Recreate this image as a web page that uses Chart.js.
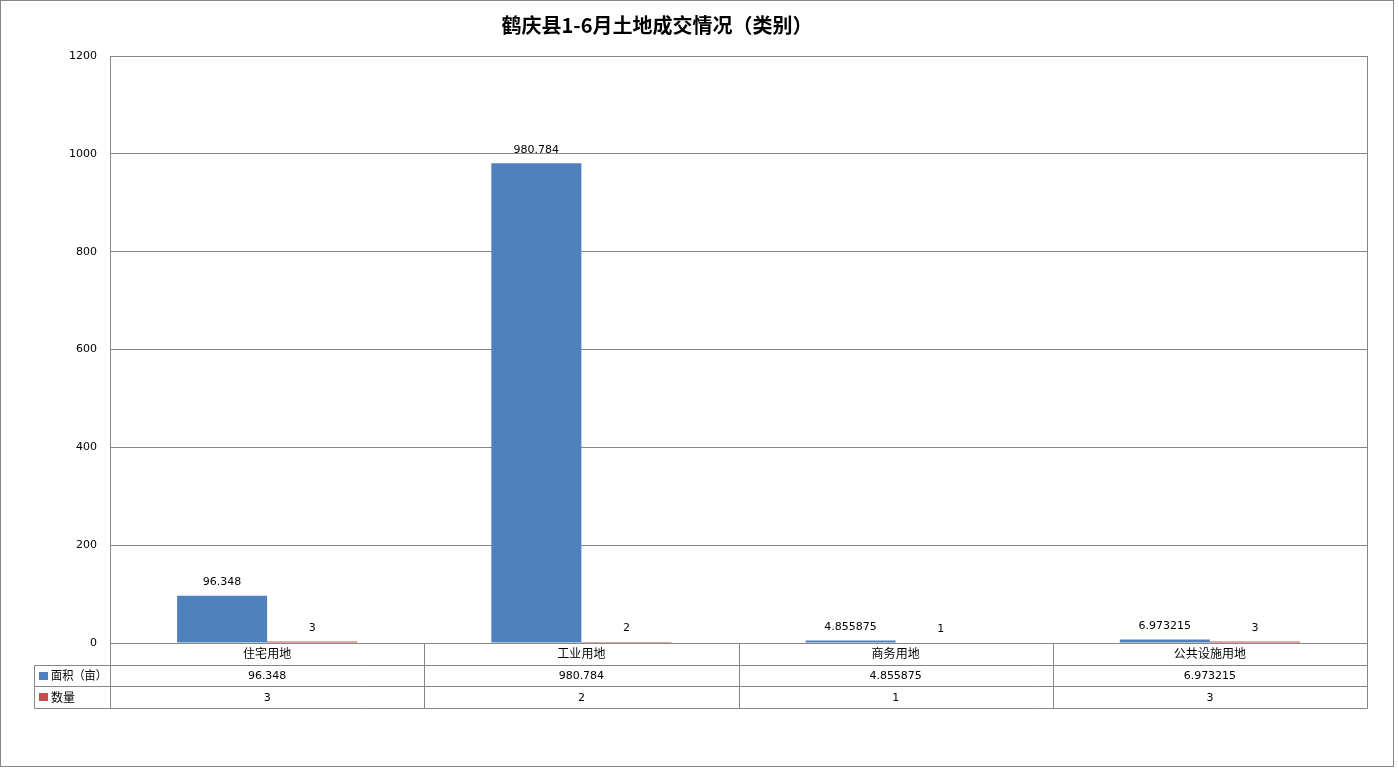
<!DOCTYPE html>
<html lang="zh-CN">
<head>
    <meta charset="UTF-8">
    <meta name="viewport" content="width=device-width, initial-scale=1.0">
    <script src="https://cdn.jsdelivr.net/npm/chart.js"></script>
    <title>鹤庆县1-6月土地成交情况（类别）</title>
    <style>
        html, body { margin: 0; padding: 0; background: #fff; }
        .container { width: 1398px; height: 768px; position: relative; }
    </style>
</head>
<body>
    <div class="container">
        <canvas id="mychart"></canvas>
    </div>

    <script>
        // chart data
        const chartTitle = '鹤庆县1-6月土地成交情况（类别）';
        const categories = ['住宅用地', '工业用地', '商务用地', '公共设施用地'];
        const seriesNames = ['面积（亩）', '数量'];
        const areaValues = [96.348, 980.784, 4.855875, 6.973215];
        const countValues = [3, 2, 1, 3];
        const yTicks = [0, 200, 400, 600, 800, 1000, 1200];

        const seriesColors = ['#4F81BD', '#C0504D'];
        const lineColor = '#868686';
        const numFont = '11px "DejaVu Sans", Verdana, sans-serif';
        const cjkFont = '12px "Noto Sans CJK SC", sans-serif';

        function crisp(v) { return Math.round(v) + 0.5; }

        // frame, value labels and the data table under the plot
        const tablePlugin = {
            id: 'tableAndFrame',
            beforeDraw(chart) {
                const ctx = chart.ctx;
                ctx.save();
                ctx.fillStyle = '#fff';
                ctx.fillRect(0, 0, chart.width, chart.height);
                ctx.strokeStyle = lineColor;
                ctx.lineWidth = 1;
                ctx.strokeRect(0.5, 0.5, 1393, 766);
                // title
                ctx.fillStyle = '#000';
                ctx.font = 'bold 20px "Noto Sans CJK SC", sans-serif';
                ctx.textAlign = 'center';
                ctx.textBaseline = 'middle';
                ctx.fillText(chartTitle, 657, 25);
                ctx.restore();
            },
            afterDatasetsDraw(chart) {
                const ctx = chart.ctx;
                ctx.save();
                ctx.font = numFont;
                ctx.fillStyle = '#000';
                ctx.textAlign = 'center';
                ctx.textBaseline = 'bottom';
                chart.data.datasets.forEach((ds, di) => {
                    chart.getDatasetMeta(di).data.forEach((el, i) => {
                        ctx.fillText(String(ds.data[i]), el.x, el.y - 8);
                    });
                });
                ctx.restore();
            },
            afterDraw(chart) {
                const ctx = chart.ctx;
                const a = chart.chartArea;
                const x = chart.scales.x;
                const n = categories.length;
                const colW = (a.right - a.left) / n;
                const rowH = 21.7;
                const top = a.bottom;
                const rows = [top, top + rowH, top + rowH * 2, top + rowH * 3];
                const leftCol = 34;

                ctx.save();
                ctx.strokeStyle = lineColor;
                ctx.lineWidth = 1;

                // plot border
                ctx.strokeRect(crisp(a.left), crisp(a.top), Math.round(a.right - a.left), Math.round(a.bottom - a.top));

                // table lines
                ctx.beginPath();
                ctx.moveTo(crisp(a.left), crisp(rows[0]));
                ctx.lineTo(crisp(a.right), crisp(rows[0]));
                for (let r = 1; r < rows.length; r++) {
                    ctx.moveTo(crisp(leftCol), crisp(rows[r]));
                    ctx.lineTo(crisp(a.right), crisp(rows[r]));
                }
                ctx.moveTo(crisp(leftCol), crisp(rows[1]));
                ctx.lineTo(crisp(leftCol), crisp(rows[3]));
                for (let i = 0; i <= n; i++) {
                    const px = i < n ? x.getPixelForValue(i) - colW / 2 : x.getPixelForValue(n - 1) + colW / 2;
                    ctx.moveTo(crisp(px), crisp(rows[0]));
                    ctx.lineTo(crisp(px), crisp(rows[3]));
                }
                ctx.stroke();

                // table text
                ctx.fillStyle = '#000';
                ctx.textAlign = 'center';
                ctx.textBaseline = 'middle';
                const tableRows = [areaValues, countValues];
                categories.forEach((c, i) => {
                    const cx = x.getPixelForValue(i);
                    ctx.font = cjkFont;
                    ctx.fillText(c, cx, (rows[0] + rows[1]) / 2);
                    ctx.font = numFont;
                    tableRows.forEach((vals, r) => {
                        ctx.fillText(String(vals[i]), cx, (rows[r + 1] + rows[r + 2]) / 2 + 1);
                    });
                });

                // legend keys in the left column
                ctx.textAlign = 'left';
                ctx.font = cjkFont;
                seriesNames.forEach((name, r) => {
                    const cy = (rows[r + 1] + rows[r + 2]) / 2;
                    ctx.fillStyle = seriesColors[r];
                    ctx.fillRect(39, Math.round(cy) - 4, 9, 8);
                    ctx.fillStyle = '#000';
                    ctx.fillText(name, 51, cy, a.left - 54);
                });
                ctx.restore();
            }
        };

        let mychart = document.getElementById('mychart').getContext('2d');
        let charts = new Chart(mychart, {
            type: 'bar',
            data: {
                labels: categories,
                datasets: [
                    {
                        label: seriesNames[0],
                        data: areaValues,
                        backgroundColor: seriesColors[0],
                        categoryPercentage: 0.573,
                        barPercentage: 1.0
                    },
                    {
                        label: seriesNames[1],
                        data: countValues,
                        backgroundColor: seriesColors[1],
                        categoryPercentage: 0.573,
                        barPercentage: 1.0
                    }
                ]
            },
            options: {
                responsive: true,
                maintainAspectRatio: false,
                animation: false,
                layout: {
                    padding: { left: 0, right: 31, top: 56, bottom: 125 }
                },
                plugins: {
                    legend: { display: false },
                    title: { display: false },
                    tooltip: { enabled: false }
                },
                scales: {
                    x: {
                        grid: { display: false },
                        border: { display: false },
                        ticks: { display: false },
                        afterFit(scale) { scale.height = 0; }
                    },
                    y: {
                        min: yTicks[0],
                        max: yTicks[yTicks.length - 1],
                        grid: { color: lineColor, drawTicks: false },
                        border: { color: lineColor },
                        ticks: {
                            stepSize: yTicks[1] - yTicks[0],
                            padding: 13,
                            color: '#000',
                            font: { family: '"DejaVu Sans", Verdana, sans-serif', size: 11 },
                            callback: (v) => String(v)
                        },
                        afterFit(scale) { scale.width = 110; }
                    }
                }
            },
            plugins: [tablePlugin]
        });
    </script>
</body>
</html>
